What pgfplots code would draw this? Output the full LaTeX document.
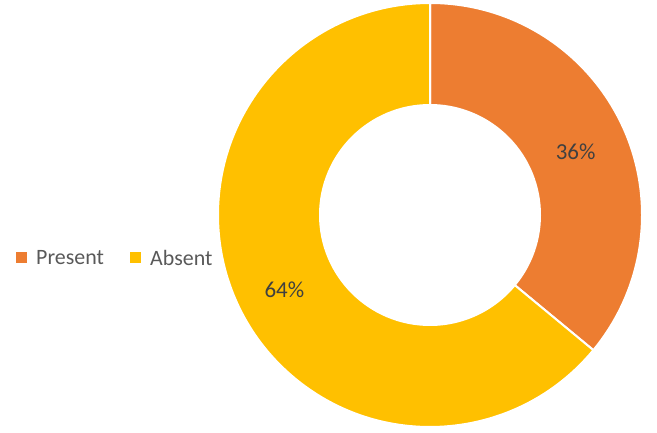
\documentclass[border=0pt]{standalone}
\usepackage{fontspec}
\setmainfont{Carlito}
\usepackage{pgfplots}
\usepackage{pgfplotstable}
\pgfplotsset{compat=1.18}
\usetikzlibrary{calc}

\definecolor{present}{HTML}{ED7D31}
\definecolor{absent}{HTML}{FFC000}
\definecolor{legtext}{HTML}{595959}
\definecolor{labtext}{HTML}{404040}

\pgfplotstableread{
label value
Present 36
Absent 64
}\donutdata
\pgfplotstablegetelem{0}{value}\of\donutdata \let\vp\pgfplotsretval
\pgfplotstablegetelem{1}{value}\of\donutdata \let\va\pgfplotsretval
\pgfmathsetmacro\angp{90-3.6*\vp}
\pgfmathsetmacro\anga{\angp-3.6*\va}
\pgfmathsetmacro\midp{(90+\angp)/2}
\pgfmathsetmacro\mida{(\angp+\anga)/2}
\def\Ro{212bp}
\def\Ri{110bp}
\def\Rl{161bp}

\begin{document}
\begin{tikzpicture}
\begin{axis}[
    width=657bp, height=433bp, scale only axis,
    xmin=0, xmax=657, ymin=0, ymax=433,
    hide axis, clip=false,
  ]
  \coordinate (c) at (axis cs:430,218);
  \coordinate (bl) at (axis cs:0,0);
  \coordinate (tr) at (axis cs:657,433);
  % slices
  \filldraw[fill=present, draw=white, line width=2bp]
    ($(c)+(90:\Ro)$) arc[start angle=90, end angle=\angp, radius=\Ro]
    -- ($(c)+(\angp:\Ri)$) arc[start angle=\angp, end angle=90, radius=\Ri] -- cycle;
  \filldraw[fill=absent, draw=white, line width=2bp]
    ($(c)+(\angp:\Ro)$) arc[start angle=\angp, end angle=\anga, radius=\Ro]
    -- ($(c)+(\anga:\Ri)$) arc[start angle=\anga, end angle=\angp, radius=\Ri] -- cycle;
  % data labels
  \node[text=labtext, font=\fontsize{23}{27}\selectfont] at ($(c)+(\midp:\Rl)+(0,-5bp)$) {\vp\%};
  \node[text=labtext, font=\fontsize{23}{27}\selectfont] at ($(c)+(\mida:\Rl)+(0,-6bp)$) {\va\%};
  % legend
  \fill[present] (axis cs:15.5,169.5) rectangle (axis cs:26.5,180.5);
  \node[anchor=west, inner sep=0pt, text=legtext, font=\fontsize{22}{26}\selectfont] at (axis cs:36,175) {Present};
  \fill[absent] (axis cs:129.5,169.5) rectangle (axis cs:140.5,180.5);
  \node[anchor=west, inner sep=0pt, text=legtext, font=\fontsize{22}{26}\selectfont] at (axis cs:150,175) {Absent};
\end{axis}
\pgfresetboundingbox
\path[use as bounding box] (bl) rectangle (tr);
\end{tikzpicture}
\end{document}
